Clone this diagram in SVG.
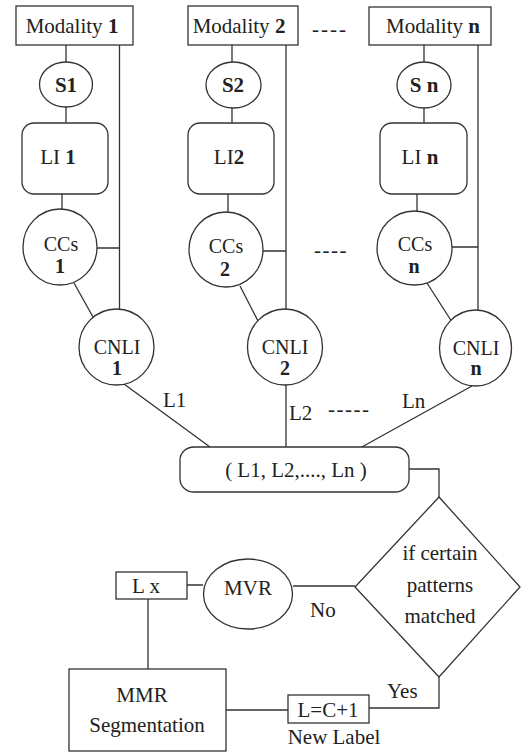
<svg xmlns="http://www.w3.org/2000/svg" width="521" height="753" viewBox="0 0 521 753">
<style>
.s{fill:#fff;stroke:#333;stroke-width:1.3}
.c{fill:none;stroke:#333;stroke-width:1.3}
text{font-family:"Times New Roman",Tinos,"Liberation Serif","Noto Serif","DejaVu Serif",serif;font-size:21px;fill:#222}
.m{text-anchor:middle}
.b{font-weight:bold}
.t{font-size:20px}
</style>
<rect width="521" height="753" fill="#fff"/>
<g id="connectors" class="c">
<path d="M66,45V62M66,107V123M62,194V210M119.5,45V309M97,248H119.5M74,283L93,317M124,384L210,447"/>
<path d="M232,45V62M232,108V123M228,194V212M286,45V309M263,251H286M240,286L258,321M286,385V447"/>
<path d="M424,45V62M424,108V123M417,194V211M478,45V310M452,247H478M427,283L452,322M472,386L360,448"/>
<path d="M409,469H439V497M293,586H355M187,585H203M148,599V669M226,710H288M369,708H439V677"/>
</g>
<g id="mod1"><rect class="s" x="16" y="6" width="117" height="39"/><text class="m" x="72" y="33">Modality <tspan class="b">1</tspan></text></g>
<g id="mod2"><rect class="s" x="188" y="6" width="110" height="39"/><text class="m" x="239" y="33">Modality <tspan class="b">2</tspan></text></g>
<g id="modn"><rect class="s" x="369" y="7" width="122" height="38"/><text class="m" x="433" y="33">Modality <tspan class="b">n</tspan></text></g>
<text x="312" y="36" letter-spacing="2">----</text>
<g id="s1"><ellipse class="s" cx="66" cy="84.5" rx="26.5" ry="22.5"/><text class="m b" x="66" y="92">S1</text></g>
<g id="s2"><ellipse class="s" cx="233.5" cy="85" rx="27.5" ry="23"/><text class="m b" x="233" y="92">S2</text></g>
<g id="sn"><ellipse class="s" cx="424" cy="85" rx="27" ry="23"/><text class="m" x="424" y="92"><tspan class="b">S</tspan> <tspan class="b">n</tspan></text></g>
<g id="li1"><rect class="s" x="22" y="123" width="86" height="71" rx="12"/><text class="m" x="58" y="164">LI <tspan class="b">1</tspan></text></g>
<g id="li2"><rect class="s" x="188" y="123" width="86" height="71" rx="12"/><text class="m" x="229" y="164">LI<tspan class="b">2</tspan></text></g>
<g id="lin"><rect class="s" x="380" y="123" width="87" height="71" rx="12"/><text class="m" x="420" y="164">LI  <tspan class="b">n</tspan></text></g>
<g id="ccs1"><ellipse class="s" cx="60" cy="247" rx="37" ry="38"/><text class="m t" x="61" y="251">CCs</text><text class="m b t" x="60" y="273">1</text></g>
<g id="ccs2"><ellipse class="s" cx="226" cy="249.5" rx="37" ry="37.5"/><text class="m t" x="226" y="253">CCs</text><text class="m b t" x="225" y="276">2</text></g>
<g id="ccsn"><ellipse class="s" cx="414.5" cy="248" rx="37.5" ry="37"/><text class="m t" x="415" y="251">CCs</text><text class="m b t" x="414" y="273">n</text></g>
<text x="314" y="257" letter-spacing="1.5">----</text>
<g id="cnli1"><ellipse class="s" cx="116.5" cy="347" rx="37.5" ry="38"/><text class="m t" x="117" y="354">CNLI</text><text class="m b t" x="117" y="375">1</text></g>
<g id="cnli2"><ellipse class="s" cx="285" cy="347" rx="37.5" ry="38"/><text class="m t" x="285" y="354">CNLI</text><text class="m b t" x="285" y="375">2</text></g>
<g id="cnlin"><ellipse class="s" cx="475.5" cy="348" rx="36" ry="38"/><text class="m t" x="476" y="355">CNLI</text><text class="m b t" x="476" y="375">n</text></g>
<text x="163" y="407">L1</text>
<text x="289" y="420">L2</text>
<text x="328" y="416" letter-spacing="1.5">-----</text>
<text x="402" y="408">Ln</text>
<g id="labels"><rect class="s" x="180" y="447" width="229" height="45" rx="14" ry="13"/><text class="m" x="296" y="477">( L1, L2,...., Ln )</text></g>
<g id="decision"><path class="s" d="M439,497L520,587L439,677L355,587Z"/><text class="m" x="440" y="560">if certain</text><text class="m" x="440" y="592">patterns</text><text class="m" x="440" y="623">matched</text></g>
<g id="mvr"><ellipse class="s" cx="248" cy="594" rx="44.5" ry="35"/><text class="m" x="248" y="595">MVR</text></g>
<text x="310" y="617">No</text>
<g id="lx"><rect class="s" x="116" y="572" width="71" height="27"/><text class="m" x="146" y="593">L x</text></g>
<g id="mmr"><rect class="s" x="69" y="669" width="157" height="82"/><text class="m" x="142" y="702">MMR</text><text class="m" x="147" y="732">Segmentation</text></g>
<g id="newlabel"><rect class="s" x="288" y="695" width="81" height="28"/><text class="m" x="328" y="717">L=C+1</text><text class="m" x="334" y="744">New Label</text></g>
<text x="387" y="698">Yes</text>
</svg>
